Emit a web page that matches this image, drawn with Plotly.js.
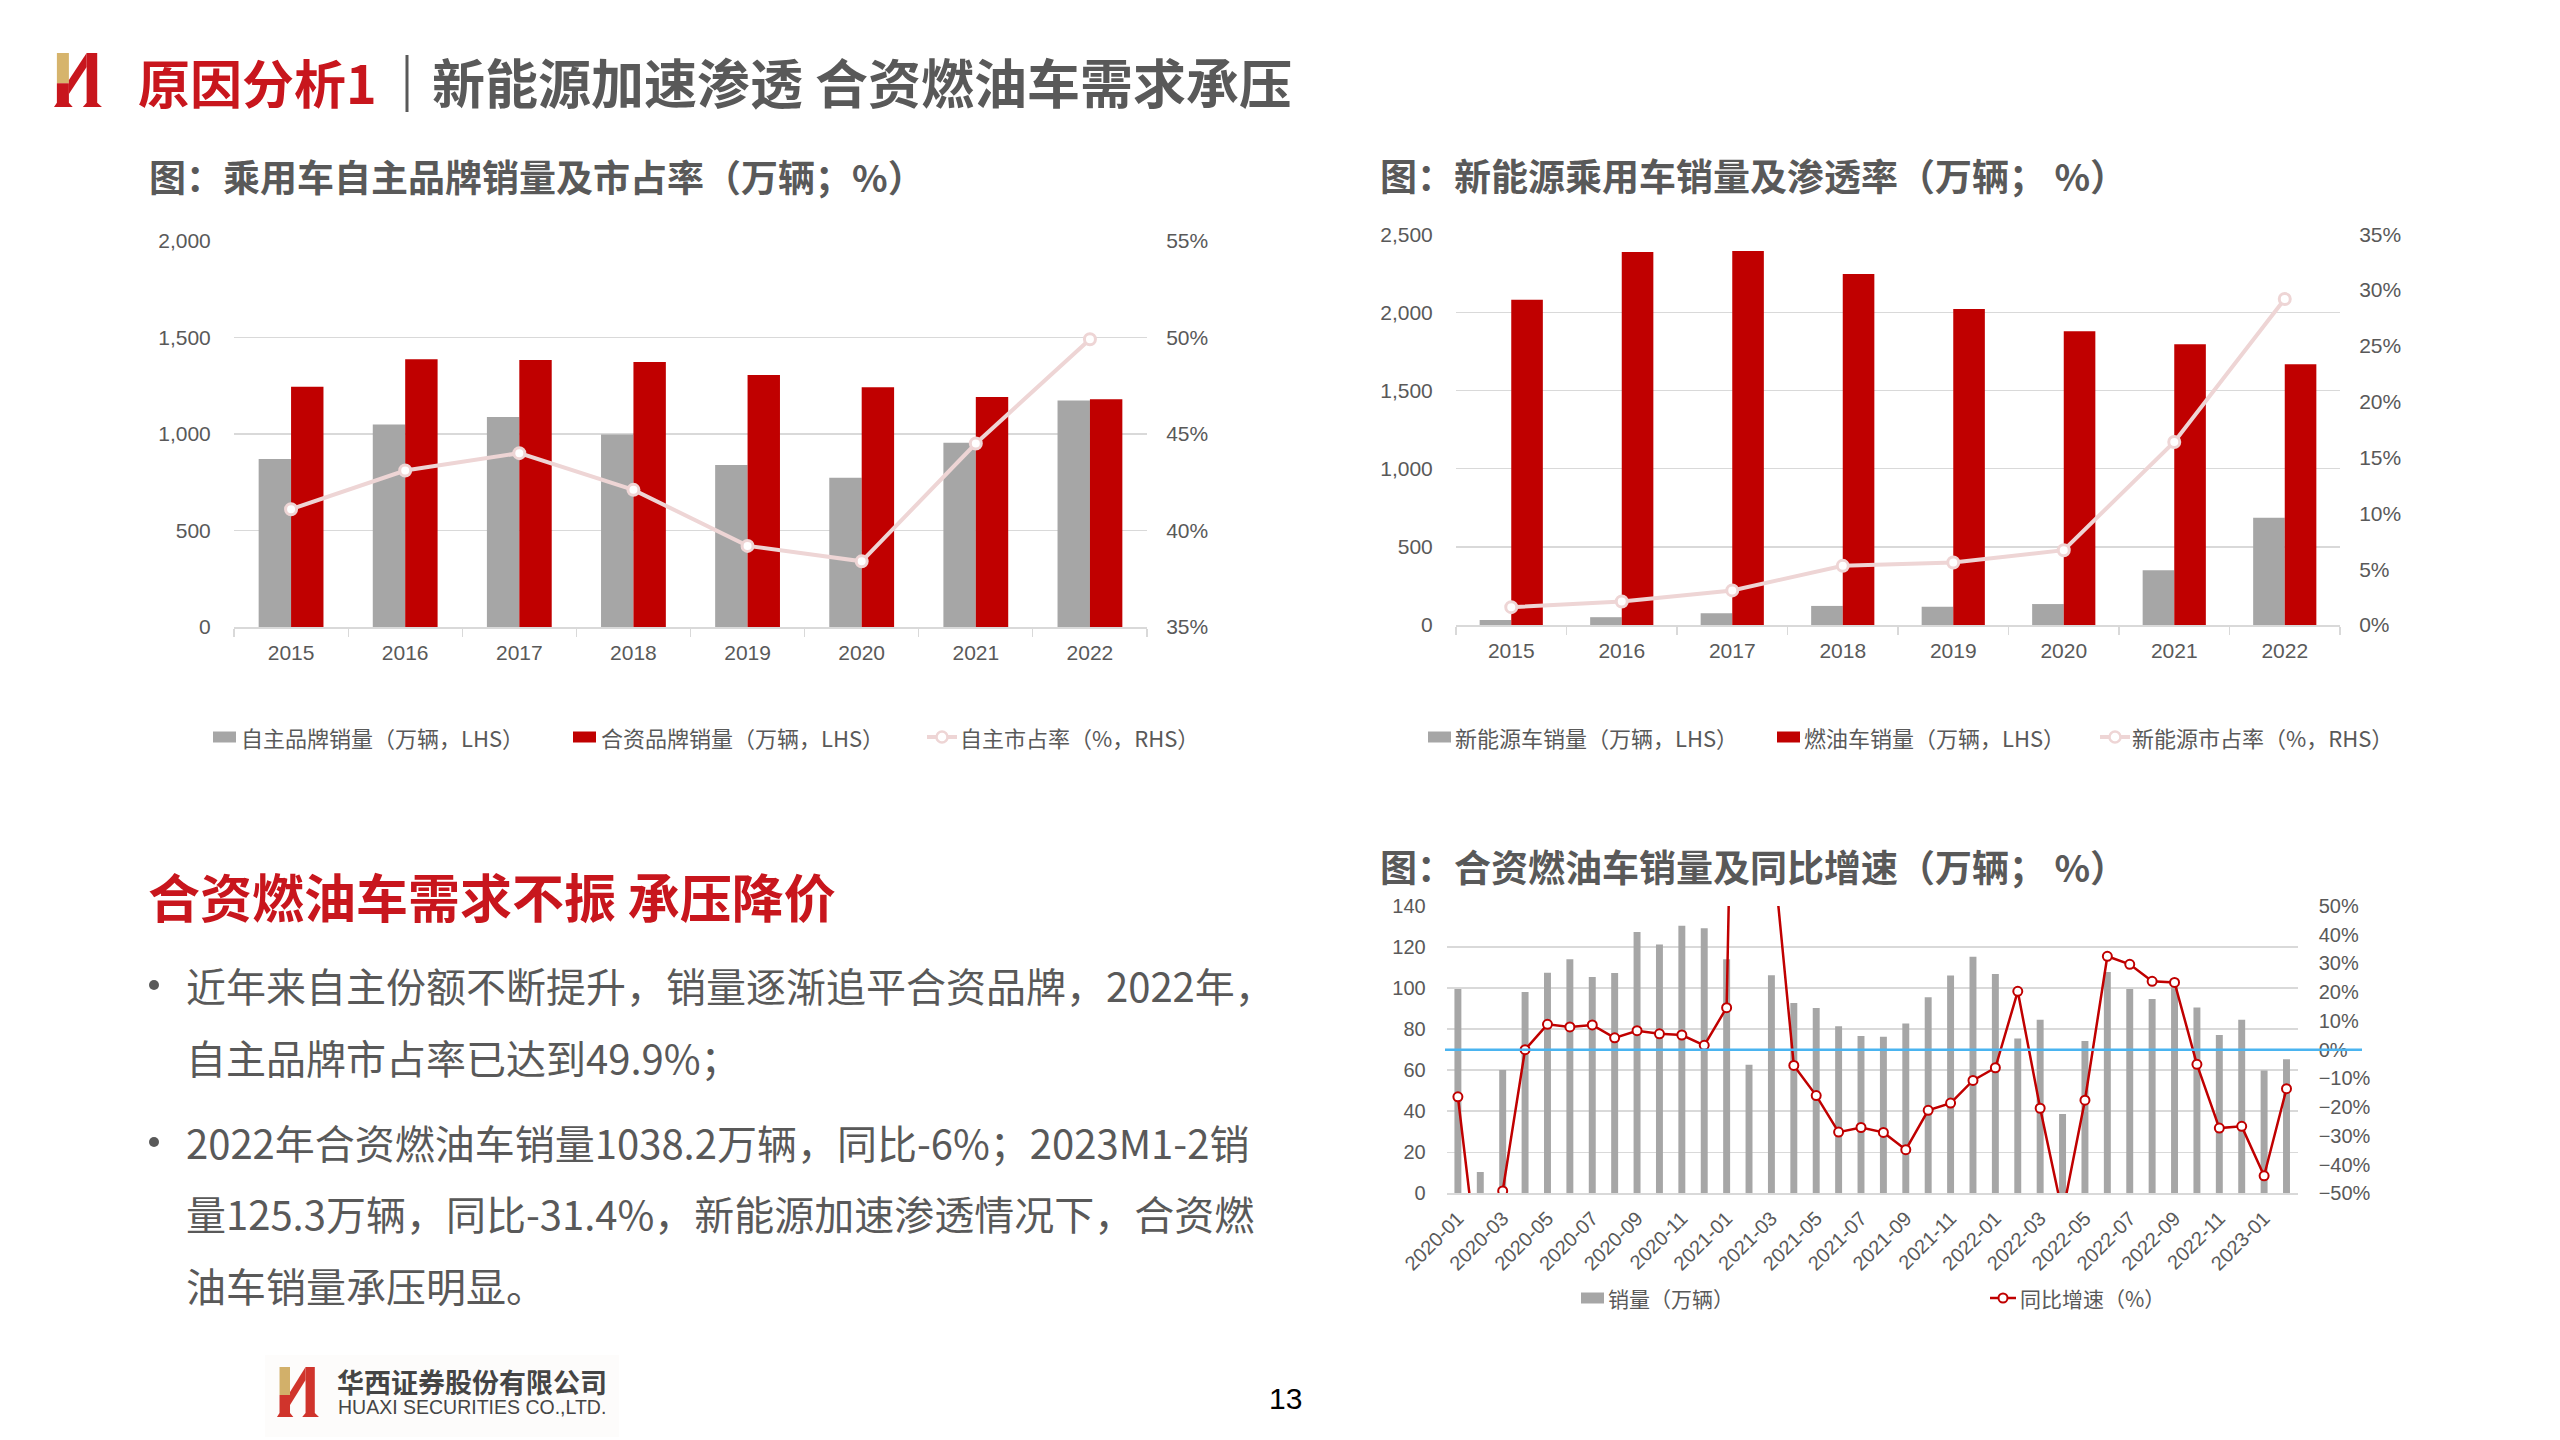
<!DOCTYPE html>
<html><head><meta charset="utf-8">
<script src="https://cdn.plot.ly/plotly-3.0.1.min.js"></script>
<style>html,body{margin:0;padding:0;background:#fff;}#chart{width:2560px;height:1440px;}</style>
</head><body><div id="chart"></div>
<script>
// ---------- DATA ----------
const years = ['2015','2016','2017','2018','2019','2020','2021','2022'];
const ownBrandSales = [870, 1049, 1087, 997, 839, 773, 954, 1173];
const jvBrandSales  = [1244, 1386, 1382, 1372, 1305, 1241, 1191, 1179];
const ownBrandShare = [41.1, 43.1, 44.0, 42.1, 39.2, 38.4, 44.5, 49.9];

const nevSales = [32, 50, 75, 122, 117, 134, 350, 687];
const iceSales = [2082, 2387, 2393, 2246, 2022, 1879, 1796, 1668];
const nevShare = [1.6, 2.1, 3.1, 5.3, 5.6, 6.7, 16.4, 29.2];

const months = ['2020-01','2020-02','2020-03','2020-04','2020-05','2020-06','2020-07','2020-08','2020-09','2020-10','2020-11','2020-12',
  '2021-01','2021-02','2021-03','2021-04','2021-05','2021-06','2021-07','2021-08','2021-09','2021-10','2021-11','2021-12',
  '2022-01','2022-02','2022-03','2022-04','2022-05','2022-06','2022-07','2022-08','2022-09','2022-10','2022-11','2022-12',
  '2023-01','2023-02'];
const jvIceSales = [99.5, 10.4, 60.1, 98.1, 107.5, 114.0, 105.4, 107.4, 127.3, 121.2, 130.4, 129.1,
  114.0, 62.7, 106.2, 92.7, 90.3, 81.4, 76.7, 76.3, 82.8, 95.5, 106.1, 115.3,
  106.9, 75.4, 84.6, 38.7, 74.2, 107.8, 99.6, 94.7, 101.5, 90.6, 77.1, 84.6,
  59.8, 65.3];
const jvIceYoY = [-16.4, -82, -49.2, 0.0, 8.8, 7.9, 8.6, 4.1, 6.6, 5.5, 5.1, 1.5,
  14.6, 400, 75, -5.5, -16.0, -28.7, -27.1, -28.8, -34.8, -21.1, -18.6, -10.7,
  -6.3, 20.3, -20.4, -57, -17.6, 32.5, 29.7, 23.8, 23.4, -5.1, -27.3, -26.7,
  -43.9, -13.6];
const monthTicks = ['2020-01','2020-03','2020-05','2020-07','2020-09','2020-11','2021-01','2021-03','2021-05','2021-07',
  '2021-09','2021-11','2022-01','2022-03','2022-05','2022-07','2022-09','2022-11','2023-01'];

// ---------- STYLE ----------
const W = 2560, H = 1440;
const CJK = 'Noto Sans CJK SC, Liberation Sans, sans-serif';
const NUM = 'Liberation Sans, Arial, sans-serif';
const GRAY_TXT = '#595959', RED = '#c00000', BAR_GRAY = '#a6a6a6', PINK = '#eed5d5', TITLE_RED = '#c8161d', GRID = '#d9d9d9';
const fx = x => x / W, fy = y => 1 - y / H;
const tickFont = {family: NUM, size: 21, color: GRAY_TXT};
const tickFont3 = {family: NUM, size: 20, color: GRAY_TXT};

function A(text, x, y, size, color, extra) {
  return Object.assign({xref:'paper', yref:'paper', x: fx(x), y: fy(y), text: text, showarrow:false,
    xanchor:'left', yanchor:'middle', font:{family: CJK, size: size, color: color}}, extra || {});
}
function rect(x0, y0, x1, y1, color) {
  return {type:'rect', xref:'paper', yref:'paper', x0: fx(x0), x1: fx(x1), y0: fy(y0), y1: fy(y1), fillcolor: color, line:{width:0}};
}
function dot(cx, cy, r, color) {
  return {type:'circle', xref:'paper', yref:'paper', x0: fx(cx - r), x1: fx(cx + r), y0: fy(cy + r), y1: fy(cy - r), fillcolor: color, line:{width:0}};
}
function poly(pts, color) {
  const d = pts.map((p, i) => (i ? 'L' : 'M') + fx(p[0]).toFixed(5) + ',' + fy(p[1]).toFixed(5)).join(' ') + ' Z';
  return {type:'path', xref:'paper', yref:'paper', path: d, fillcolor: color, line:{width:0}};
}
function logo(x0, y0, w, h, gold, red) {
  const P = (a, b) => [x0 + a * w, y0 + b * h];
  return [
    poly([P(0.06,0), P(0.31,0), P(0.31,0.56), P(0.06,0.56)], gold),
    poly([P(0.06,0.56), P(0.31,0.56), P(0.31,0.92), P(0.39,1), P(0,1), P(0.06,0.92)], red),
    poly([P(0.31,0.50), P(0.68,0.0), P(0.68,0.26), P(0.31,0.76)], red),
    poly([P(0.68,0), P(0.9,0), P(0.9,0.92), P(1,1), P(0.6,1), P(0.68,0.92)], red)
  ];
}
function legendRect(x, y, color) { return rect(x, y - 5.5, x + 23, y + 5.5, color); }
function legendLine(x0, x1, y, color, lw, r, bw) {
  const cx = (x0 + x1) / 2;
  return [
    {type:'line', xref:'paper', yref:'paper', x0: fx(x0), x1: fx(x1), y0: fy(y), y1: fy(y), line:{color: color, width: lw}},
    {type:'circle', xref:'paper', yref:'paper', x0: fx(cx - r), x1: fx(cx + r), y0: fy(y + r), y1: fy(y - r), fillcolor:'#ffffff', line:{color: color, width: bw}}
  ];
}

// ---------- TRACES ----------
const traces = [
  {type:'bar', x: years, y: ownBrandSales, xaxis:'x', yaxis:'y', marker:{color: BAR_GRAY}, width: 0.284, offset: -0.284},
  {type:'bar', x: years, y: jvBrandSales, xaxis:'x', yaxis:'y', marker:{color: RED}, width: 0.284, offset: 0},
  {type:'scatter', mode:'lines+markers', x: years, y: ownBrandShare, xaxis:'x', yaxis:'y2',
    line:{color: PINK, width: 4}, marker:{size: 11, color:'#ffffff', line:{color: PINK, width: 3}}},

  {type:'bar', x: years, y: nevSales, xaxis:'x2', yaxis:'y3', marker:{color: BAR_GRAY}, width: 0.286, offset: -0.286},
  {type:'bar', x: years, y: iceSales, xaxis:'x2', yaxis:'y3', marker:{color: RED}, width: 0.286, offset: 0},
  {type:'scatter', mode:'lines+markers', x: years, y: nevShare, xaxis:'x2', yaxis:'y4',
    line:{color: PINK, width: 4}, marker:{size: 11, color:'#ffffff', line:{color: PINK, width: 3}}},

  {type:'bar', x: months, y: jvIceSales, xaxis:'x3', yaxis:'y5', marker:{color: BAR_GRAY}, width: 0.31},
  {type:'scatter', mode:'lines+markers', x: months, y: jvIceYoY, xaxis:'x3', yaxis:'y6',
    line:{color: RED, width: 2.5}, marker:{size: 9, color:'#ffffff', line:{color: RED, width: 2}}}
];

// ---------- LAYOUT ----------
const catX = (dom, anchor) => ({domain: dom, anchor: anchor, type:'category', range:[-0.5, 7.5], showgrid:false, zeroline:false,
  showline:true, linecolor: GRID, linewidth: 1.5, ticks:'outside', tickson:'boundaries', ticklen: 8, tickcolor: GRID, tickwidth: 1.2,
  ticklabelstandoff: 6, tickfont: tickFont, fixedrange: true});
const leftY = (dom, anchor, range, dtick, fmt, tf) => ({domain: dom, anchor: anchor, range: range, dtick: dtick, tickformat: fmt,
  showgrid:true, gridcolor: GRID, gridwidth: 1.5, zeroline:false, showline:false, ticks:'outside', ticklen: 18,
  tickcolor:'rgba(0,0,0,0)', tickfont: tf || tickFont, fixedrange: true});
const rightY = (over, anchor, range, dtick, len, tf) => ({overlaying: over, anchor: anchor, side:'right', range: range, dtick: dtick,
  ticksuffix:'%', showgrid:false, zeroline:false, showline:false, ticks:'outside', ticklen: len, tickcolor:'rgba(0,0,0,0)',
  tickfont: tf || tickFont, fixedrange: true});

const layout = {
  width: W, height: H, margin:{l:0, r:0, t:0, b:0}, paper_bgcolor:'#ffffff', plot_bgcolor:'#ffffff',
  showlegend:false, barmode:'overlay', font:{family: CJK, color: GRAY_TXT},
  xaxis: catX([234/W, 1147/W], 'y'),
  yaxis: leftY([1 - 627/H, 1 - 240.7/H], 'x', [0, 2000], 500, ',d'),
  yaxis2: rightY('y', 'x', [35, 55], 5, 14),
  xaxis2: catX([1456/W, 2340/W], 'y3'),
  yaxis3: leftY([1 - 625/H, 1 - 234.3/H], 'x2', [0, 2500], 500, ',d'),
  yaxis4: rightY('y3', 'x2', [0, 35], 5, 14),
  xaxis3: {domain:[1446.7/W, 2297.7/W], anchor:'y5', type:'category', range:[-0.5, 37.5], showgrid:false, zeroline:false,
    showline:true, linecolor: GRID, linewidth: 1.5, ticks:'', tickmode:'array', tickvals: monthTicks, ticktext: monthTicks,
    tickangle: -45, ticklabelstandoff: 4, tickfont: tickFont3, fixedrange: true},
  yaxis5: leftY([1 - 1193.3/H, 1 - 906/H], 'x3', [0, 140], 20, 'd', tickFont3),
  yaxis6: rightY('y5', 'x3', [-50, 50], 10, 16, tickFont3),
  shapes: [],
  annotations: []
};
layout.yaxis5.ticklen = 16;

// zero line of YoY axis (blue)
layout.shapes.push({type:'line', xref:'paper', yref:'y6', x0: fx(1445), x1: fx(2362), y0: 0, y1: 0, line:{color:'#4ab4f0', width: 2.5}});

// title logo & separator
layout.shapes.push(...logo(54, 53, 48, 54, '#d6b46c', TITLE_RED));
layout.shapes.push({type:'line', xref:'paper', yref:'paper', x0: fx(407), x1: fx(407), y0: fy(55), y1: fy(112), line:{color: GRAY_TXT, width: 3}});

// footer
layout.shapes.push(rect(265, 1355, 619, 1437, '#fdfcfb'));
layout.shapes.push(...logo(277, 1367, 42, 50, '#d2b06a', '#d0342c'));

// bullets
layout.shapes.push(dot(154, 985, 5, GRAY_TXT), dot(154, 1142, 5, GRAY_TXT));

// legends
layout.shapes.push(legendRect(213, 737, BAR_GRAY), legendRect(573, 737, RED), ...legendLine(927, 957, 737, PINK, 4, 5.5, 2.5));
layout.shapes.push(legendRect(1428, 737, BAR_GRAY), legendRect(1777, 737, RED), ...legendLine(2100, 2130, 737, PINK, 4, 5.5, 2.5));
layout.shapes.push(legendRect(1581, 1298, BAR_GRAY), ...legendLine(1990, 2016, 1298, RED, 2.5, 4.5, 2));

const ann = layout.annotations;
ann.push(A('<b>原因分析1</b>', 136, 81, 52, TITLE_RED));
ann.push(A('<b>新能源加速渗透 合资燃油车需求承压</b>', 430, 81, 53, GRAY_TXT));
ann.push(A('<b>图：乘用车自主品牌销量及市占率（万辆；%）</b>', 147, 176, 37, GRAY_TXT));
ann.push(A('<b>图：新能源乘用车销量及渗透率（万辆； %）</b>', 1378, 175, 37, GRAY_TXT));
ann.push(A('<b>图：合资燃油车销量及同比增速（万辆； %）</b>', 1378, 866, 37, GRAY_TXT));

ann.push(A('自主品牌销量（万辆，LHS）', 239, 737, 22, GRAY_TXT));
ann.push(A('合资品牌销量（万辆，LHS）', 599, 737, 22, GRAY_TXT));
ann.push(A('自主市占率（%，RHS）', 958, 737, 22, GRAY_TXT));
ann.push(A('新能源车销量（万辆，LHS）', 1453, 737, 22, GRAY_TXT));
ann.push(A('燃油车销量（万辆，LHS）', 1802, 737, 22, GRAY_TXT));
ann.push(A('新能源市占率（%，RHS）', 2130, 737, 22, GRAY_TXT));
ann.push(A('销量（万辆）', 1606, 1298, 21, GRAY_TXT));
ann.push(A('同比增速（%）', 2018, 1298, 21, GRAY_TXT));

ann.push(A('<b>合资燃油车需求不振 承压降价</b>', 146, 895, 52, TITLE_RED));
ann.push(A('近年来自主份额不断提升，销量逐渐追平合资品牌，2022年，', 184, 985, 40, GRAY_TXT));
ann.push(A('自主品牌市占率已达到49.9%；', 184, 1057, 40, GRAY_TXT));
ann.push(A('2022年合资燃油车销量1038.2万辆，同比-6%；2023M1-2销', 184, 1142, 40, GRAY_TXT));
ann.push(A('量125.3万辆，同比-31.4%，新能源加速渗透情况下，合资燃', 184, 1213, 40, GRAY_TXT));
ann.push(A('油车销量承压明显。', 184, 1285, 40, GRAY_TXT));

ann.push(A('<b>华西证券股份有限公司</b>', 335, 1381, 27, '#454545'));
ann.push(A('HUAXI SECURITIES CO.,LTD.', 336, 1407, 19.5, '#454545', {font:{family: NUM, size: 19.5, color:'#454545'}}));
ann.push(A('13', 1285, 1398, 30, '#000000', {xanchor:'center', font:{family: NUM, size: 30, color:'#000000'}}));

Plotly.newPlot('chart', traces, layout, {displayModeBar:false, staticPlot:true});
</script>
</body></html>
